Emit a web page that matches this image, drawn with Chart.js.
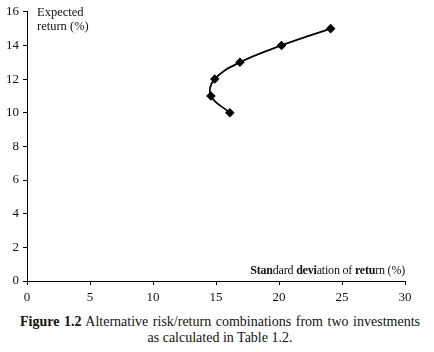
<!DOCTYPE html>
<html>
<head>
<meta charset="utf-8">
<script src="https://cdn.jsdelivr.net/npm/chart.js@4"></script>
<style>
  body { margin: 0; background: #fff; font-family: "Liberation Serif", serif; }
  #wrap { position: relative; width: 434px; height: 303px; }
  .lbl { position: absolute; font-size: 12.5px; color: #111; line-height: 14px; white-space: nowrap; }
  #caption { width: 400px; margin: 11px 0 0 20px; font-size: 14px; line-height: 16px; color: #111; text-align: justify; text-align-last: center; }
</style>
</head>
<body>
<div id="wrap">
  <canvas id="grafico" width="434" height="303"></canvas>
  <div class="lbl" style="left:37px; top:5px;">Expected<br>return (%)</div>
  <div class="lbl" style="right:29px; top:263px; font-size:12px; letter-spacing:-0.2px;"><b>Stan</b>dard <b>devi</b>ation of <b>retu</b>rn (%)</div>
</div>
<div id="caption"><b>Figure 1.2</b> Alternative risk/return combinations from two investments as calculated in Table 1.2.</div>
<script>
document.addEventListener("DOMContentLoaded", function() {
    // Desvio padrão (%) e retorno esperado (%)
    const desvioPadrao = [16.1, 14.6, 14.9, 16.9, 20.2, 24.1];
    const retornoEsperado = [10, 11, 12, 13, 14, 15];
    const ticksX = [0, 5, 10, 15, 20, 25, 30];
    const ticksY = [0, 2, 4, 6, 8, 10, 12, 14, 16];

    const pontos = desvioPadrao.map((x, i) => ({ x: x, y: retornoEsperado[i] }));
    const fonte = { family: "Liberation Serif", size: 13 };

    new Chart(document.getElementById('grafico').getContext('2d'), {
        type: 'scatter',
        data: {
            datasets: [{
                data: pontos,
                showLine: true,
                tension: 0.4,
                borderColor: '#000',
                borderWidth: 1.8,
                pointStyle: 'rectRot',
                pointRadius: 3.5,
                pointBackgroundColor: '#000',
                pointBorderColor: '#000'
            }]
        },
        options: {
            responsive: false,
            animation: false,
            layout: { padding: { top: 8, right: 29, left: 0, bottom: 0 } },
            plugins: { legend: { display: false }, tooltip: { enabled: false } },
            scales: {
                x: {
                    type: 'linear',
                    min: ticksX[0],
                    max: ticksX[ticksX.length - 1],
                    afterBuildTicks: s => { s.ticks = ticksX.map(v => ({ value: v })); },
                    afterFit: s => { s.height = 22; },
                    border: { color: '#000', width: 1 },
                    grid: { display: true, drawOnChartArea: false, drawTicks: true, tickLength: 4, color: '#000' },
                    ticks: { color: '#111', font: fonte, padding: 5, maxRotation: 0 }
                },
                y: {
                    type: 'linear',
                    min: ticksY[0],
                    max: ticksY[ticksY.length - 1],
                    afterBuildTicks: s => { s.ticks = ticksY.map(v => ({ value: v })); },
                    afterFit: s => { s.width = 27; },
                    border: { color: '#000', width: 1 },
                    grid: { display: true, drawOnChartArea: false, drawTicks: true, tickLength: 4, color: '#000' },
                    ticks: { color: '#111', font: fonte, padding: 4 }
                }
            }
        }
    });
});
</script>
</body>
</html>
